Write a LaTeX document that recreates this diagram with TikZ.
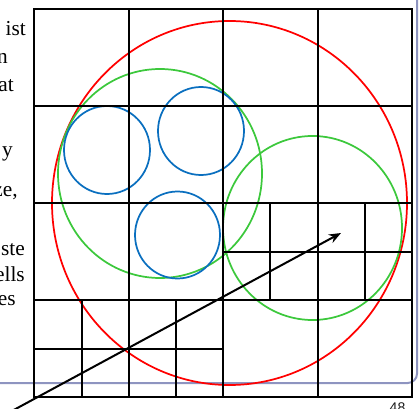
\documentclass[tikz,border=0pt]{standalone}
\usepackage{fontspec}
\setmainfont{Liberation Serif}
\newfontfamily\pagefont{Liberation Sans}
\usepackage{xcolor}
\definecolor{ringRed}{HTML}{FF0000}
\definecolor{ringGreen}{HTML}{3CC83C}
\definecolor{ringBlue}{HTML}{0A6FBF}
\definecolor{frameGray}{HTML}{8E94C0}
\usetikzlibrary{arrows.meta}
\tikzset{
    % Grid lines of the cells
    gridline/.style={
        draw=black,
        line width=1.5pt,
        line cap=rect,
    },
    % Bounding circles
    ring/.style={
        line width=1.3pt,
    },
    red ring/.style={ring, draw=ringRed},
    green ring/.style={ring, draw=ringGreen},
    blue ring/.style={ring, draw=ringBlue},
    % Ray through the cells
    ray/.style={
        -{Stealth[length=9pt, width=7pt]},
        line width=1.5pt,
        draw=black,
    },
    % Clipped text at the left margin
    margin text/.style={
        anchor=base east,
        inner sep=0pt,
        font=\fontsize{16}{20}\selectfont,
    },
}

\begin{document}
\begin{tikzpicture}[x=0.75pt, y=-0.75pt]
    \useasboundingbox (0,0) rectangle (420,409);
    \clip (0,0) rectangle (420,409);

    % slide frame and page number
    \draw [frameGray, line width=1.5pt, rounded corners=7pt]
        (-20,383) -- (417,383) -- (417,-20);
    \node (pagenum) [anchor=base, inner sep=0pt, font=\pagefont\fontsize{10.5}{12}\selectfont, text=black!90]
        at (397.5,412) {48};

    % text cut off at the left edge
    \node (t1) [margin text] at (26,36) {ist};
    \node (t2) [margin text] at (8,64) {n};
    \node (t3) [margin text] at (14,92) {at};
    \node (t4) [margin text] at (13,157) {y};
    \node (t5) [margin text] at (18,197) {ze,};
    \node (t6) [margin text] at (25,255) {ste};
    \node (t7) [margin text] at (25,281) {ells};
    \node (t8) [margin text] at (16,305) {es};

    % circles
    \draw [red ring] (229.5,203) ellipse [x radius=177.5, y radius=182];
    \draw [green ring] (160,173.5) ellipse [x radius=102, y radius=104.5];
    \draw [green ring] (312.5,228) ellipse [x radius=89.5, y radius=92];
    \draw [blue ring] (107,150) ellipse [x radius=43, y radius=44];
    \draw [blue ring] (201,131) ellipse [x radius=43, y radius=44];
    \draw [blue ring] (177.5,235) ellipse [x radius=42.5, y radius=43.5];

    % coarse grid
    \foreach \x in {34,129,223,318,412}
        \draw [gridline] (\x,9) -- (\x,397);
    \foreach \y in {9,106,203,300,397}
        \draw [gridline] (34,\y) -- (412,\y);

    % refined cells
    \foreach \x in {82,176}
        \draw [gridline] (\x,300) -- (\x,397);
    \draw [gridline] (34,349) -- (223,349);
    \foreach \x in {270,365}
        \draw [gridline] (\x,203) -- (\x,300);
    \draw [gridline] (223,252) -- (412,252);

    % ray
    \coordinate (rayStart) at (10,412);
    \coordinate (rayEnd) at (341,233);
    \draw [ray] (rayStart) -- (rayEnd);
\end{tikzpicture}
\end{document}
